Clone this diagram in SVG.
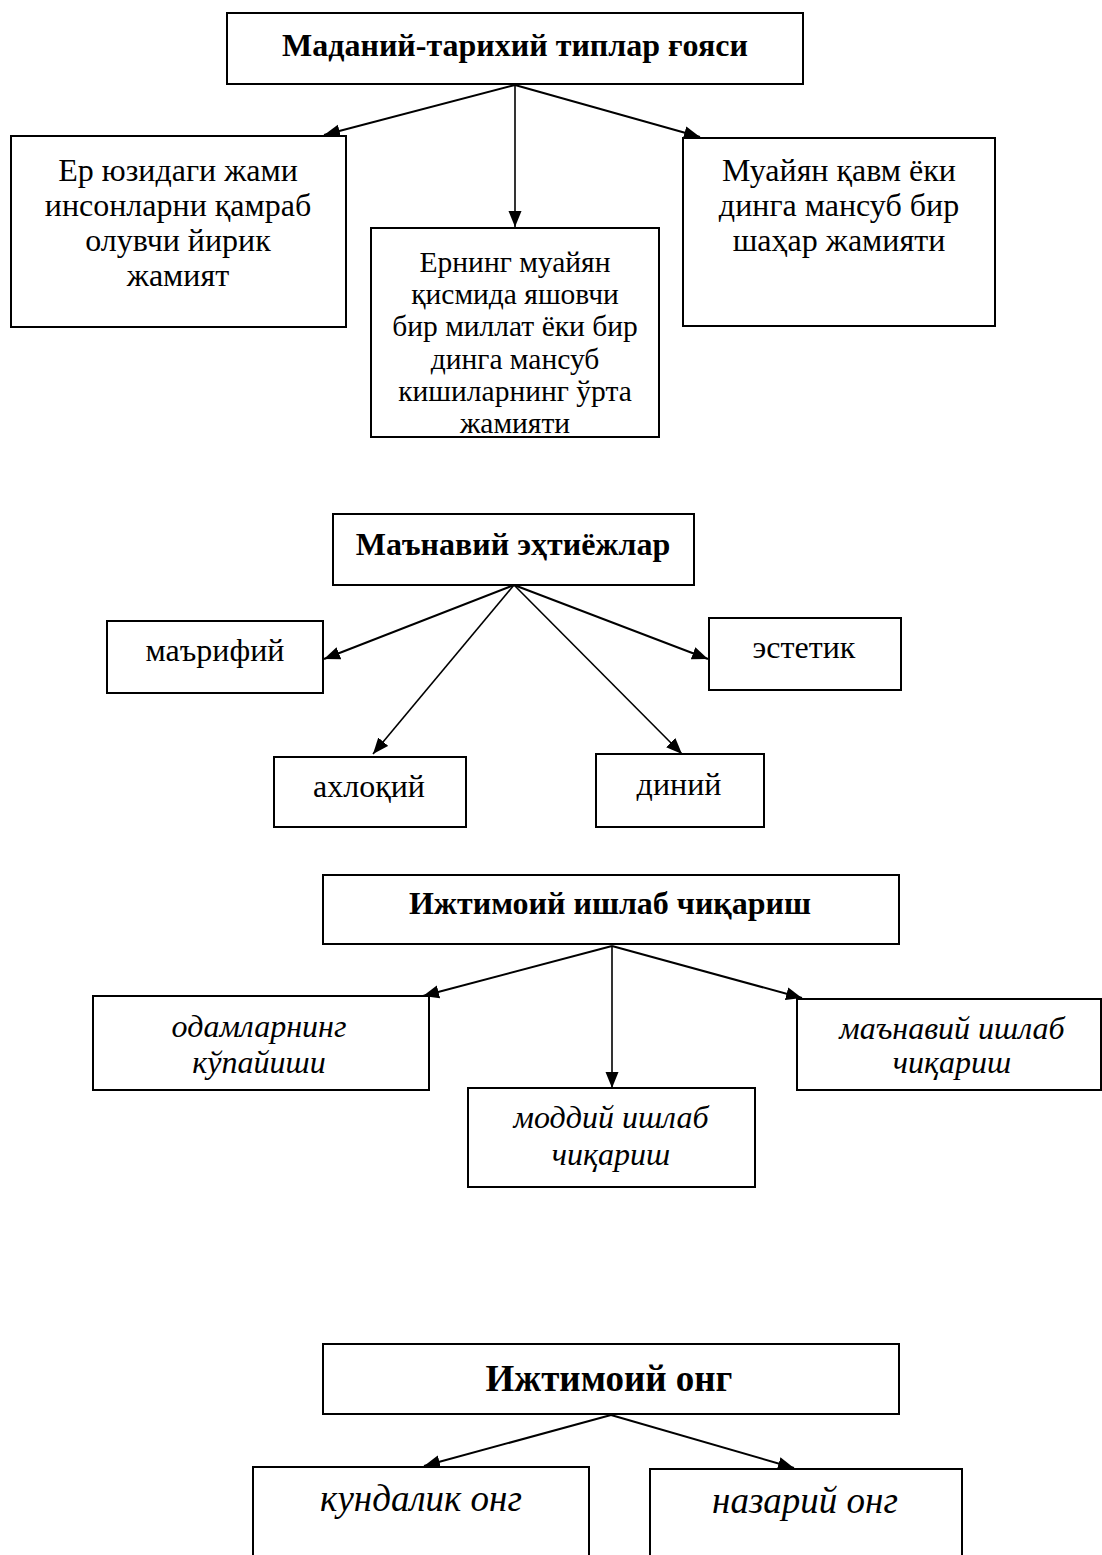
<svg xmlns="http://www.w3.org/2000/svg" width="1102" height="1555" viewBox="0 0 1102 1555">
<defs>
<marker id="ah" markerUnits="userSpaceOnUse" markerWidth="16" markerHeight="14" refX="16" refY="7" orient="auto">
<path d="M0,0.5 L16,7 L0,13.5 z" fill="#000"/>
</marker>
<style>
.box{fill:#fff;stroke:#000;stroke-width:2}
.t{font-family:"Liberation Serif","Times New Roman",serif;font-size:32px;fill:#000;text-anchor:middle}
.s{font-size:29.5px}
.b{font-weight:bold}
.i{font-style:italic}
.big{font-size:37px}
.c{fill:none;stroke:#000;stroke-width:2;marker-end:url(#ah)}
.c2{fill:none;stroke:#000;stroke-width:1.6;marker-end:url(#ah)}
</style>
</defs>
<rect width="1102" height="1555" fill="#fff"/>

<g id="connectors">
<line class="c" x1="515" y1="85" x2="324" y2="135"/>
<line class="c2" x1="515" y1="85" x2="515" y2="227"/>
<line class="c" x1="515" y1="85" x2="700" y2="137"/>

<line class="c" x1="514" y1="585" x2="324" y2="659"/>
<line class="c2" x1="514" y1="585" x2="373" y2="754"/>
<line class="c2" x1="514" y1="585" x2="682" y2="754"/>
<line class="c" x1="514" y1="585" x2="708" y2="659"/>

<line class="c" x1="612" y1="946" x2="423" y2="996"/>
<line class="c2" x1="612" y1="946" x2="612" y2="1088"/>
<line class="c" x1="612" y1="946" x2="802" y2="998"/>

<line class="c" x1="611" y1="1415" x2="424" y2="1466"/>
<line class="c" x1="611" y1="1415" x2="794" y2="1468"/>
</g>

<g id="n1">
<rect class="box" x="227" y="13" width="576" height="71"/>
<text class="t b" x="515" y="56">Маданий-тарихий типлар ғояси</text>
</g>
<g id="n1a">
<rect class="box" x="11" y="136" width="335" height="191"/>
<text class="t" x="178" y="181">Ер юзидаги жами</text>
<text class="t" x="178" y="216">инсонларни қамраб</text>
<text class="t" x="178" y="251">олувчи йирик</text>
<text class="t" x="178" y="286">жамият</text>
</g>
<g id="n1b">
<rect class="box" x="371" y="228" width="288" height="209"/>
<text class="t s" x="515" y="272">Ернинг муайян</text>
<text class="t s" x="515" y="304">қисмида яшовчи</text>
<text class="t s" x="515" y="336">бир миллат ёки бир</text>
<text class="t s" x="515" y="369">динга мансуб</text>
<text class="t s" x="515" y="401">кишиларнинг ўрта</text>
<text class="t s" x="515" y="433">жамияти</text>
</g>
<g id="n1c">
<rect class="box" x="683" y="138" width="312" height="188"/>
<text class="t" x="839" y="181">Муайян қавм ёки</text>
<text class="t" x="839" y="216">динга мансуб бир</text>
<text class="t" x="839" y="251">шаҳар жамияти</text>
</g>

<g id="n2">
<rect class="box" x="333" y="514" width="361" height="71"/>
<text class="t b" x="513" y="555">Маънавий эҳтиёжлар</text>
</g>
<g id="n2a">
<rect class="box" x="107" y="621" width="216" height="72"/>
<text class="t" x="215" y="661">маърифий</text>
</g>
<g id="n2b">
<rect class="box" x="709" y="618" width="192" height="72"/>
<text class="t" x="804" y="658">эстетик</text>
</g>
<g id="n2c">
<rect class="box" x="274" y="757" width="192" height="70"/>
<text class="t" x="369" y="797">ахлоқий</text>
</g>
<g id="n2d">
<rect class="box" x="596" y="754" width="168" height="73"/>
<text class="t" x="679" y="795">диний</text>
</g>

<g id="n3">
<rect class="box" x="323" y="875" width="576" height="69"/>
<text class="t b" x="610" y="914">Ижтимоий ишлаб чиқариш</text>
</g>
<g id="n3a">
<rect class="box" x="93" y="996" width="336" height="94"/>
<text class="t i" x="259" y="1037">одамларнинг</text>
<text class="t i" x="259" y="1073">кўпайиши</text>
</g>
<g id="n3b">
<rect class="box" x="468" y="1088" width="287" height="99"/>
<text class="t i" x="611" y="1128">моддий ишлаб</text>
<text class="t i" x="611" y="1165">чиқариш</text>
</g>
<g id="n3c">
<rect class="box" x="797" y="999" width="304" height="91"/>
<text class="t i" x="952" y="1039">маънавий ишлаб</text>
<text class="t i" x="952" y="1073">чиқариш</text>
</g>

<g id="n4">
<rect class="box" x="323" y="1344" width="576" height="70"/>
<text class="t b big" x="609" y="1391">Ижтимоий онг</text>
</g>
<g id="n4a">
<rect class="box" x="253" y="1467" width="336" height="100"/>
<text class="t i big" x="421" y="1511">кундалик онг</text>
</g>
<g id="n4b">
<rect class="box" x="650" y="1469" width="312" height="100"/>
<text class="t i big" x="805" y="1513">назарий онг</text>
</g>
</svg>
